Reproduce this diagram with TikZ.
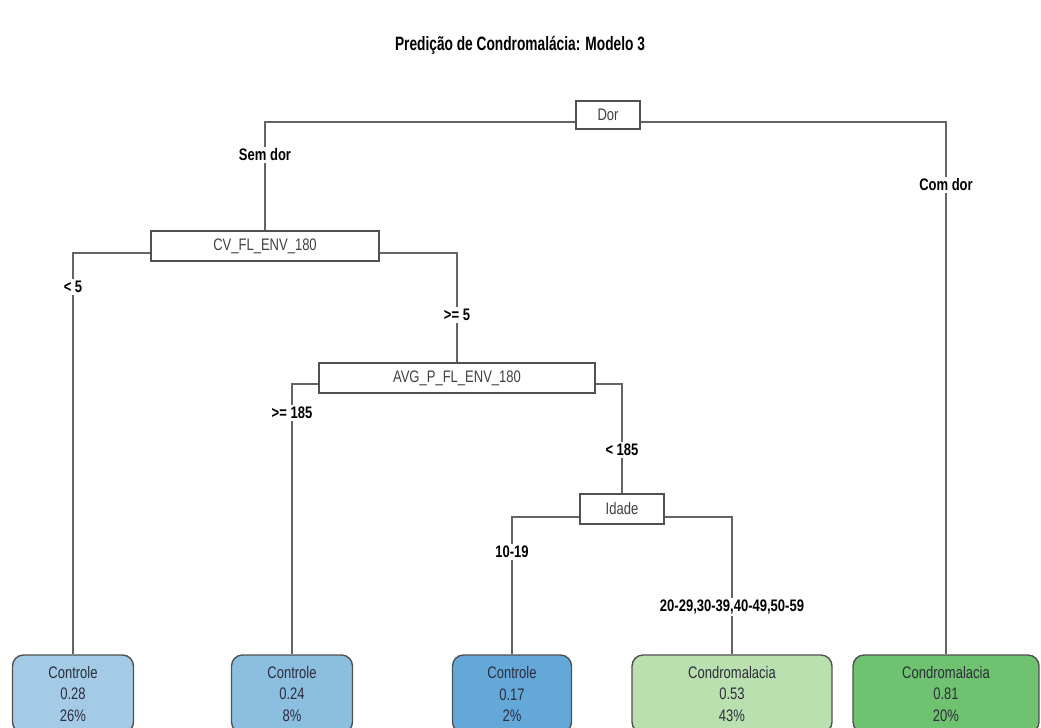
\documentclass[tikz,border=0pt]{standalone}
\usepackage{fontspec}
\setmainfont{Liberation Sans}[FakeStretch=0.78]
\newfontfamily\titlefont{Liberation Sans}[FakeStretch=0.71]
\usepackage{tikz}
\definecolor{edgegray}{RGB}{100, 100, 100}
\definecolor{boxgray}{RGB}{80, 80, 80}
\definecolor{leaftext}{RGB}{45, 45, 60}
\definecolor{blueone}{RGB}{163, 203, 230}
\definecolor{bluetwo}{RGB}{140, 190, 224}
\definecolor{bluethree}{RGB}{100, 167, 217}
\definecolor{greenone}{RGB}{185, 224, 174}
\definecolor{greentwo}{RGB}{111, 194, 112}
\tikzset{
  split/.style={draw=boxgray, fill=white, line width=0.8pt, inner sep=0pt,
    minimum height=0.6cm, font=\fontsize{9.5}{11}\selectfont, text=black!75},
  leaf/.style={draw=boxgray, line width=0.8pt, rounded corners=0.22cm,
    inner sep=0pt, minimum height=1.56cm, align=center,
    font=\fontsize{9.5}{12.2}\selectfont, text=leaftext},
  edge/.style={draw=edgegray, line width=0.8pt},
  lbl/.style={fill=white, inner sep=1pt, font=\fontsize{9.5}{11}\selectfont\bfseries}
}

\begin{document}
\begin{tikzpicture}[x=0.02cm, y=-0.02cm]
\useasboundingbox (0,0) rectangle (1041,727);

\node[font=\titlefont\fontsize{11}{13}\selectfont\bfseries] (title) at (520,45) {Predição de Condromalácia: Modelo 3};

% split nodes
\node[split, minimum width=1.28cm, minimum height=0.56cm] (dor) at (608,115) {Dor};
\node[split, minimum width=4.56cm] (cv) at (265,246) {CV\_FL\_ENV\_180};
\node[split, minimum width=5.52cm] (avg) at (457,378) {AVG\_P\_FL\_ENV\_180};
\node[split, minimum width=1.68cm] (idade) at (622,509) {Idade};

% leaves
\node[leaf, fill=blueone, minimum width=2.42cm] (leafa) at (73,694) {Controle\\0.28\\26\%};
\node[leaf, fill=bluetwo, minimum width=2.42cm] (leafb) at (292,694) {Controle\\0.24\\8\%};
\node[leaf, fill=bluethree, minimum width=2.38cm] (leafc) at (512,694) {Controle\\0.17\\2\%};
\node[leaf, fill=greenone, minimum width=4cm] (leafd) at (732,694) {Condromalacia\\0.53\\43\%};
\node[leaf, fill=greentwo, minimum width=3.72cm] (leafe) at (946,694) {Condromalacia\\0.81\\20\%};

% edges
\draw[edge] ([yshift=-0.14cm]dor.west) -| (cv.north);
\draw[edge] ([yshift=-0.14cm]dor.east) -| (leafe.north);
\draw[edge] ([yshift=-0.14cm]cv.west) -| (leafa.north);
\draw[edge] ([yshift=-0.14cm]cv.east) -| (avg.north);
\draw[edge] ([yshift=-0.12cm]avg.west) -| (leafb.north);
\draw[edge] ([yshift=-0.12cm]avg.east) -| (idade.north);
\draw[edge] ([yshift=-0.16cm]idade.west) -| (leafc.north);
\draw[edge] ([yshift=-0.16cm]idade.east) -| (leafd.north);

% branch labels
\node[lbl] (semdor) at (265,155) {Sem dor};
\node[lbl] (comdor) at (946,185) {Com dor};
\node[lbl] (lessfive) at (73,287) {< 5};
\node[lbl] (geqfive) at (457,315) {>= 5};
\node[lbl] (geqone) at (292,413) {>= 185};
\node[lbl] (lessone) at (622,450) {< 185};
\node[lbl] (young) at (512,552) {10-19};
\node[lbl] (older) at (732,607) {20-29,30-39,40-49,50-59};
\end{tikzpicture}
\end{document}
